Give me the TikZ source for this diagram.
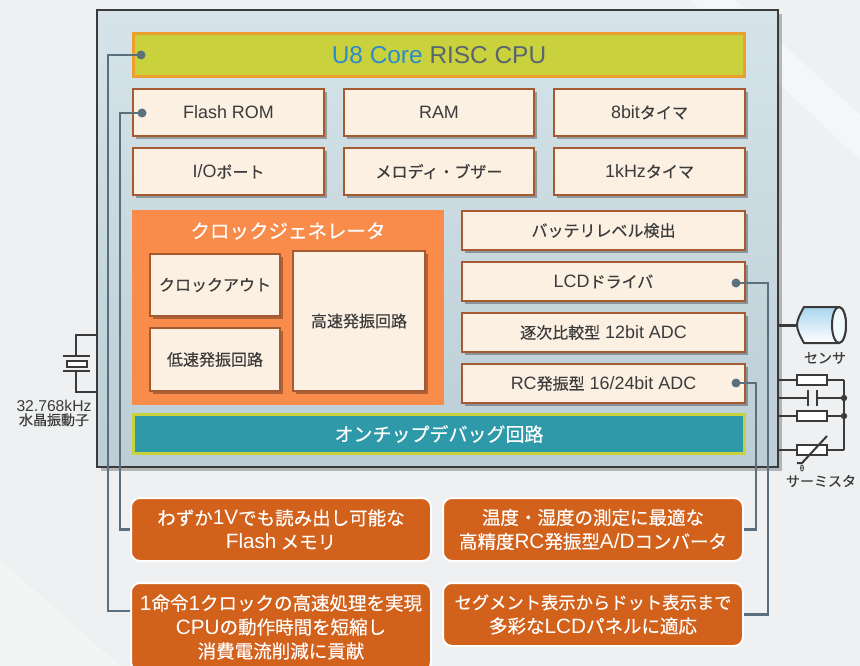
\documentclass[tikz,border=0pt]{standalone}
\usepackage{fontspec}
\setmainfont{Noto Sans CJK JP}[FakeBold=0.4]
\newfontfamily\lat{Liberation Sans}[Scale=1.12]
\usetikzlibrary{positioning,shadows}

\definecolor{bgc}{HTML}{EEF0F1}
\definecolor{chiptop}{HTML}{D6E4EA}
\definecolor{chipbot}{HTML}{BCCDD5}
\definecolor{chipline}{HTML}{3A3A3A}
\definecolor{cpufill}{HTML}{C9D23C}
\definecolor{cpuline}{HTML}{EBA02D}
\definecolor{u8blue}{HTML}{2B8BCB}
\definecolor{cpugray}{HTML}{5A6470}
\definecolor{blkfill}{HTML}{FCF0E3}
\definecolor{blkline}{HTML}{A65A32}
\definecolor{clkfill}{HTML}{F98C4B}
\definecolor{dbgfill}{HTML}{2E9AA9}
\definecolor{dbgline}{HTML}{C8D13E}
\definecolor{notefill}{HTML}{D2611B}
\definecolor{wirec}{HTML}{5B6F7D}
\definecolor{txt}{HTML}{3B3B3B}
\definecolor{cyl}{HTML}{A9D5EF}

\newcommand{\fsz}[2]{\fontsize{#1}{#2}\selectfont}
% latin runs inside japanese labels
\newcommand{\la}[1]{{\lat #1}}

\begin{document}
\begin{tikzpicture}[x=1pt,y=-1pt,
  blk/.style={draw=blkline, fill=blkfill, line width=1.6pt, text=txt,
    font=\fsz{16}{18},
    drop shadow={shadow xshift=2.5pt, shadow yshift=-3pt, fill=black, opacity=.3}},
  note/.style={draw=white, fill=notefill, line width=2pt, rounded corners=9pt,
    text=white, align=center, font=\fsz{18.5}{24},
    minimum width=300pt},
  wire/.style={draw=wirec, line width=2.5pt},
  pin/.style={circle, fill=wirec, inner sep=0pt, minimum size=9pt},
  elec/.style={draw=chipline, line width=2pt}]

  \useasboundingbox (0,0) rectangle (860,666);
  \fill[bgc] (0,0) rectangle (860,666);
  \fill[white, opacity=.45] (690,0) -- (735,0) -- (860,115) -- (860,160) -- cycle;
  \fill[white, opacity=.35] (0,560) -- (0,666) -- (120,666) -- cycle;

  % chip body
  \node[draw=chipline, line width=2.5pt, top color=chiptop, bottom color=chipbot,
    minimum width=681pt, minimum height=457pt,
    drop shadow={shadow xshift=4pt, shadow yshift=-4pt, fill=black, opacity=.25}]
    (chip) at (437.5,238.5) {};

  % core
  \node[draw=cpuline, fill=cpufill, line width=3pt, minimum width=611pt,
    minimum height=43pt, text=cpugray, font=\fsz{21.8}{24}\lat]
    (cpu) at (439,55) {\textcolor{u8blue}{U8 Core} RISC CPU};

  % peripherals, upper rows
  \node[blk, minimum width=191pt, minimum height=47pt] (flash) at (228.5,112.5) {\la{Flash ROM}};
  \node[blk, minimum width=190pt, minimum height=47pt] (ram) at (439,112.5) {\la{RAM}};
  \node[blk, minimum width=191pt, minimum height=47pt] (tim8) at (649.5,112.5) {\la{8bit}タイマ};
  \node[blk, minimum width=191pt, minimum height=47pt] (io) at (228.5,171.5) {\la{I/O}ポート};
  \node[blk, minimum width=190pt, minimum height=47pt] (melody) at (439,171.5) {メロディ・ブザー};
  \node[blk, minimum width=191pt, minimum height=47pt] (tim1k) at (649.5,171.5) {\la{1kHz}タイマ};

  % clock generator
  \node[fill=clkfill, minimum width=312pt, minimum height=195pt] (clk) at (288,307.5) {};
  \node[below=9pt of clk.north, text=white, font=\fsz{19.5}{22}] (clkttl) {クロックジェネレータ};
  \node[blk, minimum width=130pt, minimum height=62pt] (clkout) at (215,285) {クロックアウト};
  \node[blk, minimum width=130pt, minimum height=63pt] (lowosc) at (215,359.5) {低速発振回路};
  \node[blk, minimum width=132pt, minimum height=140pt] (hiosc) at (359,321) {高速発振回路};

  % analog / lcd column
  \node[blk, minimum width=283pt, minimum height=39pt] (bat) at (603.5,230.5) {バッテリレベル検出};
  \node[blk, minimum width=283pt, minimum height=39pt] (lcd) at (603.5,281.5) {\la{LCD}ドライバ};
  \node[blk, minimum width=283pt, minimum height=39pt] (sar) at (603.5,332.5) {逐次比較型\la{ 12bit ADC}};
  \node[blk, minimum width=283pt, minimum height=39pt] (rcadc) at (603.5,383.5) {\la{RC}発振型\la{ 16/24bit ADC}};

  % debug
  \node[draw=dbgline, fill=dbgfill, line width=3pt, minimum width=611pt,
    minimum height=39pt, text=white, font=\fsz{19}{22}]
    (dbg) at (439,434) {オンチップデバッグ回路};

  % feature notes
  \node[note, minimum height=63pt] (n1) at (281,529.5)
    {わずか\la{1V}でも読み出し可能な\\\la{Flash} メモリ};
  \node[note, minimum height=63pt] (n2) at (593,529.5)
    {温度・湿度の測定に最適な\\高精度\la{RC}発振型\la{A/D}コンバータ};
  \node[note, minimum height=88pt] (n3) at (281,627)
    {\la{1}命令\la{1}クロックの高速処理を実現\\\la{CPU}の動作時間を短縮し\\消費電流削減に貢献};
  \node[note, minimum height=63pt] (n4) at (593,614.5)
    {{\fsz{17.3}{24}セグメント表示からドット表示まで}\\多彩な\la{LCD}パネルに適応};

  % leader lines
  \node[pin] (p1) at (141,55) {};
  \node[pin] (p2) at (142,113) {};
  \node[pin] (p3) at (736,283) {};
  \node[pin] (p4) at (736,383) {};
  \draw[wire] (p1.center) -- ++(-33,0) |- (n3.west |- 0,611);
  \draw[wire] (p2.center) -- ++(-22,0) |- (n1.west);
  \draw[wire] (p3.center) -- ++(32,0) |- (n4.east);
  \draw[wire] (p4.center) -- ++(20,0) |- (n2.east);

  % crystal
  \draw[elec] (97,335) -- (76,335) -- (76,356);
  \draw[elec] (63,356) -- (90,356) (63,371) -- (90,371);
  \draw[elec, fill=white] (67,360.5) rectangle (87,366.5);
  \draw[elec] (76,371) -- (76,392) -- (97,392);
  \node[text=txt, align=center, font=\fsz{14}{14}] (xtal) at (54,413) {\la{32.768kHz}\\水晶振動子};

  % sensor
  \draw[elec, line width=3pt] (778,325) -- (798,325);
  \draw[elec, top color=cyl, bottom color=white]
    (804,307) -- (839,307) arc[start angle=90, end angle=-90, x radius=7pt, y radius=18pt]
    -- (804,343) .. controls (800,336) and (797,330) .. (797,325)
    .. controls (797,320) and (800,314) .. (804,307) -- cycle;
  \draw[elec, fill=white!85!cyl] (839,325) ellipse [x radius=7pt, y radius=18pt];
  \node[text=txt, font=\fsz{14}{15}] (sensor) at (825,358) {センサ};

  % rc network and thermistor
  \foreach \yy in {380,416,450}
    \draw[elec] (778,\yy) -- (797,\yy) (827,\yy) -- (844,\yy);
  \foreach \yy in {380,416,450}
    \draw[elec, fill=white] (797,\yy-5) rectangle (827,\yy+5);
  \draw[elec] (778,398) -- (808,398) (808,390) -- (808,406)
    (817,390) -- (817,406) (817,398) -- (844,398);
  \draw[elec] (844,380) -- (844,450);
  \fill[chipline] (844,398) circle (3.2pt) (844,416) circle (3.2pt);
  \draw[elec] (797,463) -- (802,463) -- (827,436);
  \node[text=txt, font=\fsz{8}{9}, inner sep=0pt] (theta) at (802,468) {θ};
  \node[text=txt, font=\fsz{14}{15}, inner sep=1pt] (therm) at (821,481) {サーミスタ};
\end{tikzpicture}
\end{document}
